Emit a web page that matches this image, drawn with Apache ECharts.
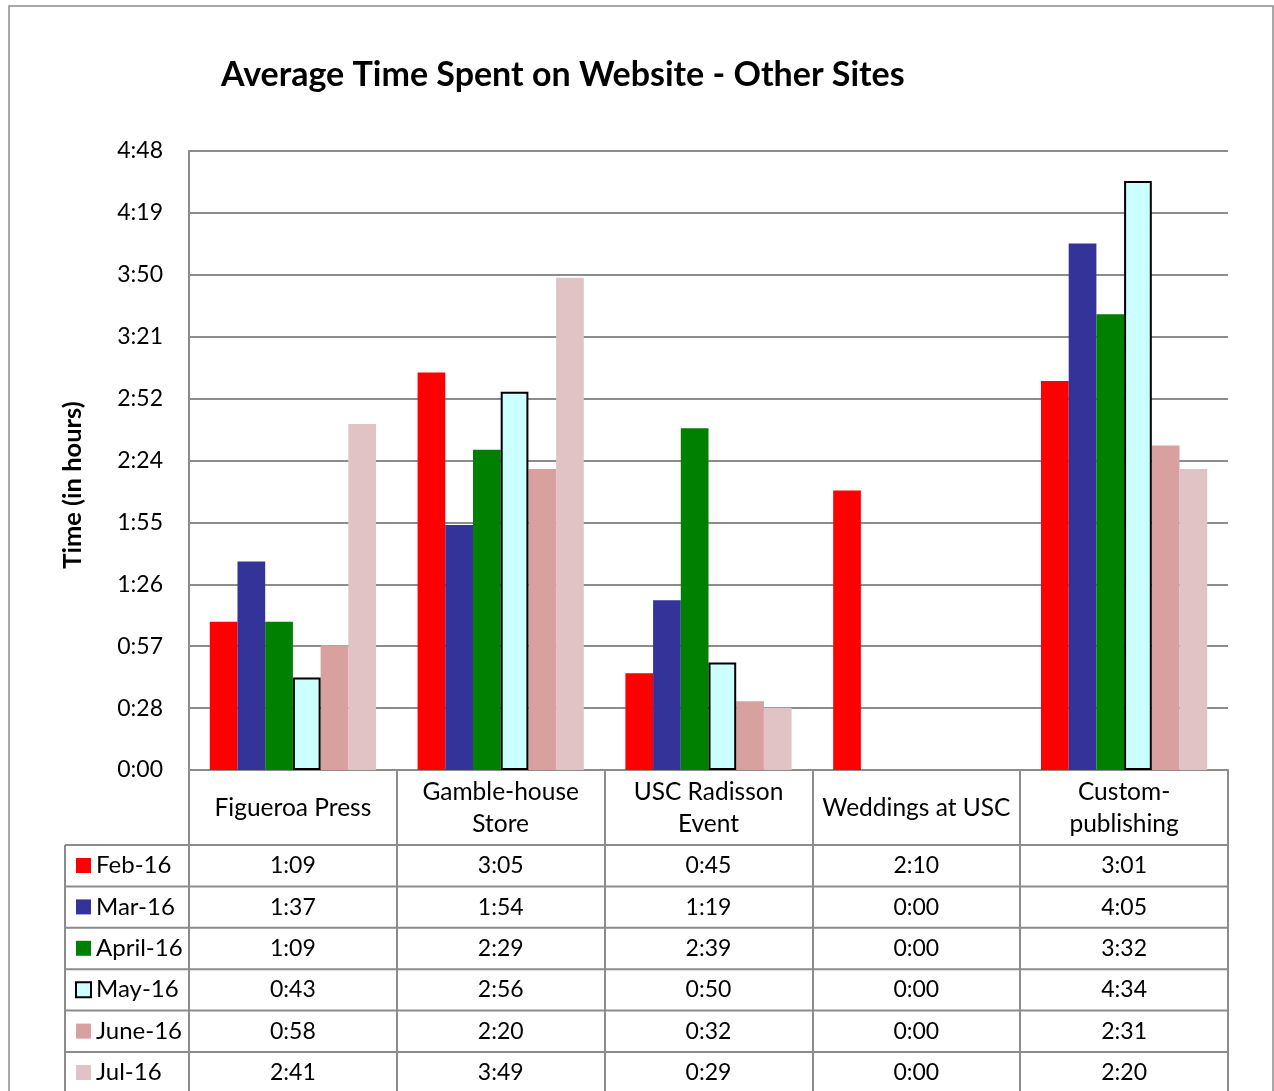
<!DOCTYPE html>
<html><head><meta charset="utf-8">
<script src="https://cdn.jsdelivr.net/npm/echarts@6/dist/echarts.min.js"></script>
<style>html,body{margin:0;padding:0;background:#fff}#c{width:1274px;height:1091px}</style>
</head><body><div id="c"></div>
<script>
// ---- data (values in minutes) ----
const categories = ['Figueroa Press', 'Gamble-house Store', 'USC Radisson Event', 'Weddings at USC', 'Custom-publishing'];
const headerLabels = ['Figueroa Press', 'Gamble-house\nStore', 'USC Radisson\nEvent', 'Weddings at USC', 'Custom-\npublishing'];
const seriesNames = ['Feb-16', 'Mar-16', 'April-16', 'May-16', 'June-16', 'Jul-16'];
const feb16 = [69, 185, 45, 130, 181];
const mar16 = [97, 114, 79, 0, 245];
const apr16 = [69, 149, 159, 0, 212];
const may16 = [43, 176, 50, 0, 274];
const jun16 = [58, 140, 32, 0, 151];
const jul16 = [161, 229, 29, 0, 140];
const yTickLabels = ['0:00', '0:28', '0:57', '1:26', '1:55', '2:24', '2:52', '3:21', '3:50', '4:19', '4:48'];

const seriesValues = [feb16, mar16, apr16, may16, jun16, jul16];
const colors = ['#FF0000', '#333399', '#008000', '#CCFFFF', '#D9A0A0', '#E2C3C5'];
const FONT = 'Lato';
const GRID_LINE = '#8c8c8c';

function fmt(m) {
  const h = Math.floor(m / 60), mm = m % 60;
  return h + ':' + (mm < 10 ? '0' : '') + mm;
}

const chart = echarts.init(document.getElementById('c'), null, { renderer: 'canvas' });

const series = seriesValues.map((vals, i) => {
  const isMay = i === 3;
  return {
    name: seriesNames[i],
    type: 'bar',
    barGap: '0%',
    barCategoryGap: '20%',
    itemStyle: isMay ? { color: colors[i], borderColor: '#000', borderWidth: 2 } : { color: colors[i] },
    data: vals.map(v => (isMay && v === 0) ? { value: v, itemStyle: { borderWidth: 0 } } : v),
    z: isMay ? 3 : 2
  };
});

chart.setOption({
  animation: false,
  backgroundColor: '#fff',
  title: {
    text: 'Average Time Spent on Website - Other Sites',
    left: 221, top: 55, padding: 0,
    textStyle: { fontFamily: FONT, fontWeight: 'bold', fontSize: 34, lineHeight: 40, color: '#000' }
  },
  legend: {
    orient: 'vertical', left: 75, top: 852.5, padding: 0,
    itemWidth: 15, itemHeight: 15, itemGap: 15.4,
    selectedMode: false, icon: 'rect',
    textStyle: { fontFamily: FONT, fontSize: 24, lineHeight: 26, color: '#000' },
    data: seriesNames
  },
  grid: { left: 189, right: 46, top: 151, bottom: 321, containLabel: false },
  xAxis: {
    type: 'category',
    data: categories,
    axisLine: { show: true, lineStyle: { color: GRID_LINE, width: 2 } },
    axisTick: { show: true, interval: 0, length: 325, lineStyle: { color: GRID_LINE, width: 2 } },
    axisLabel: {
      interval: 0, margin: 38, verticalAlign: 'middle',
      fontFamily: FONT, fontSize: 24.5, lineHeight: 32, color: '#000',
      formatter: (v, i) => headerLabels[i]
    }
  },
  yAxis: {
    type: 'value', min: 0, max: 288, interval: 28.8,
    axisLine: { show: true, lineStyle: { color: GRID_LINE, width: 2 } },
    axisTick: { show: false },
    splitLine: { show: true, lineStyle: { color: GRID_LINE, width: 2 } },
    axisLabel: {
      margin: 26, fontFamily: FONT, fontSize: 23, color: '#000',
      formatter: v => yTickLabels[Math.round(v / 28.8)]
    }
  },
  series: series
});

// ---- data table + decorations ----
const ROW_TOP = 845, ROW_H = 41.4;
const graphics = [];
graphics.push({
  type: 'rect', silent: true, z: 0,
  shape: { x: 9, y: 6, width: 1264, height: 1110 },
  style: { fill: 'none', stroke: GRID_LINE, lineWidth: 1.5 }
});
graphics.push({
  type: 'text', silent: true,
  x: 73, y: 485, rotation: Math.PI / 2,
  style: { text: 'Time (in hours)', fontFamily: FONT, fontWeight: 'bold', fontSize: 25.5, fill: '#000', align: 'center', verticalAlign: 'middle' }
});
for (let r = 0; r <= 6; r++) {
  const y = ROW_TOP + r * ROW_H;
  graphics.push({
    type: 'line', silent: true,
    shape: { x1: 65, y1: y, x2: 1228, y2: y },
    style: { stroke: GRID_LINE, lineWidth: 2 }
  });
}
graphics.push({
  type: 'line', silent: true,
  shape: { x1: 65, y1: ROW_TOP, x2: 65, y2: 1100 },
  style: { stroke: GRID_LINE, lineWidth: 2 }
});
seriesValues.forEach((vals, r) => {
  const cy = ROW_TOP + r * ROW_H + ROW_H / 2;
  vals.forEach((v, c) => {
    const cx = chart.convertToPixel({ xAxisIndex: 0 }, c);
    graphics.push({
      type: 'text', silent: true, x: cx, y: cy,
      style: { text: fmt(v), fontFamily: FONT, fontSize: 23, fill: '#000', align: 'center', verticalAlign: 'middle' }
    });
  });
});
chart.setOption({ graphic: graphics });
</script>
</body></html>
